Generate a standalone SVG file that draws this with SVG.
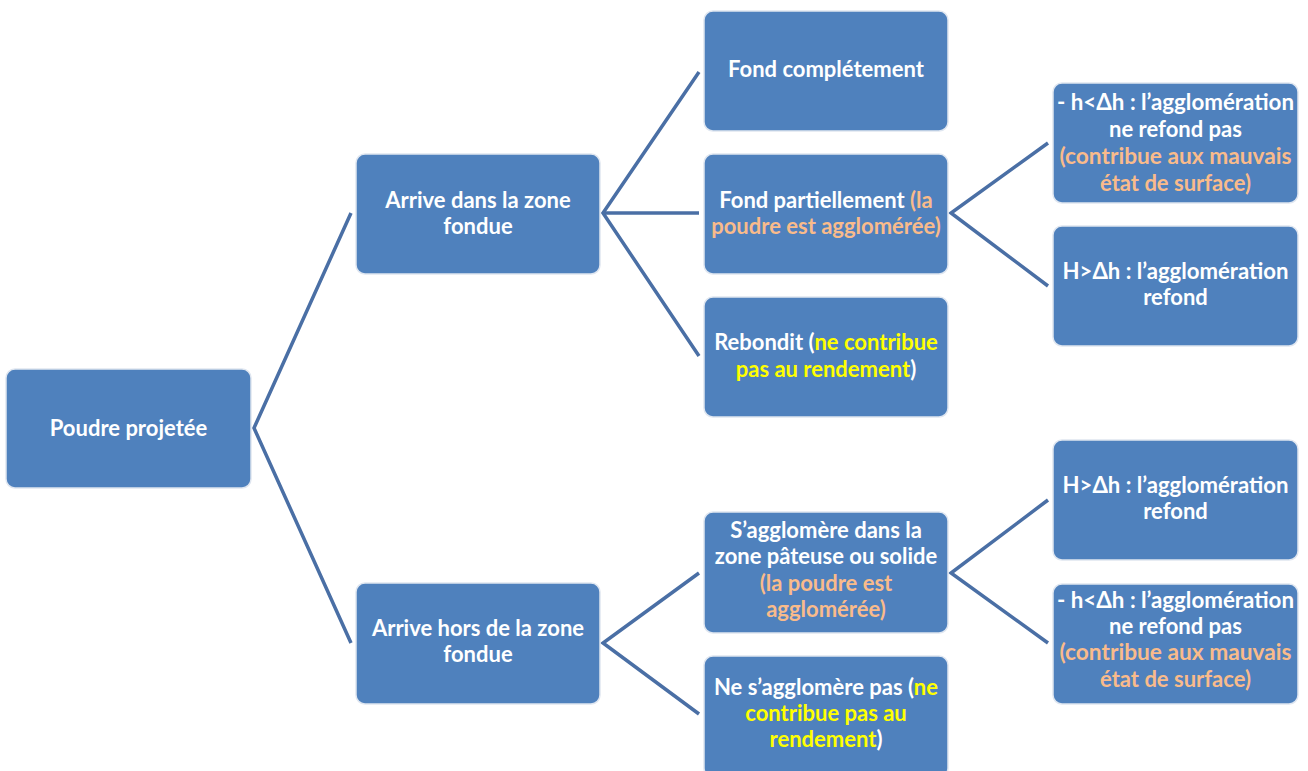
<svg xmlns="http://www.w3.org/2000/svg" width="1308" height="771" viewBox="0 0 1308 771">
<style>
.box{fill:#4f81bd;stroke:#dfe6f0;stroke-width:1.5}
.t{font-family:Lato,"Open Sans","Liberation Sans",sans-serif;font-weight:bold;font-size:22px;fill:#ffffff;text-anchor:middle}
.o{fill:#f9bb8b}
.y{fill:#ffff00}
.c{fill:none;stroke:#4a6fa5;stroke-width:3.5;stroke-linejoin:miter}
</style>
<rect width="1308" height="771" fill="#ffffff"/>
<g id="connectors">
<polyline class="c" points="351,213 254,428 351,643"/>
<polyline class="c" points="699,72 603,213 699,356"/>
<line class="c" x1="603" y1="213" x2="699" y2="213"/>
<polyline class="c" points="1048,143 951,213 1048,286"/>
<polyline class="c" points="699,573 603,643 699,714"/>
<polyline class="c" points="1048,500 951,573 1048,643"/>
</g>
<g id="n_poudre">
<rect class="box" x="6" y="369" width="245" height="119" rx="9"/>
<text class="t" x="128.5" y="436">Poudre projetée</text>
</g>
<g id="n_arrive_dans">
<rect class="box" x="356" y="154" width="244" height="120" rx="9"/>
<text class="t" x="478" y="208">Arrive dans  la zone</text>
<text class="t" x="478" y="234">fondue</text>
</g>
<g id="n_arrive_hors">
<rect class="box" x="356" y="583" width="244" height="121" rx="9"/>
<text class="t" x="478" y="636">Arrive hors de la zone</text>
<text class="t" x="478" y="662">fondue</text>
</g>
<g id="n_fond_complet">
<rect class="box" x="704" y="11" width="244" height="120" rx="9"/>
<text class="t" x="826" y="77">Fond complétement</text>
</g>
<g id="n_fond_partiel">
<rect class="box" x="704" y="154" width="244" height="120" rx="9"/>
<text class="t" x="826" y="208">Fond partiellement <tspan class="o">(la</tspan></text>
<text class="t o" x="826" y="234">poudre est agglomérée)</text>
</g>
<g id="n_rebondit">
<rect class="box" x="704" y="297" width="244" height="120" rx="9"/>
<text class="t" x="826" y="350">Rebondit (<tspan class="y">ne contribue</tspan></text>
<text class="t" x="826" y="377"><tspan class="y">pas au rendement</tspan>)</text>
</g>
<g id="n_sagglomere">
<rect class="box" x="704" y="512" width="244" height="121" rx="9"/>
<text class="t" x="826" y="538">S’agglomère dans la</text>
<text class="t" x="826" y="564">zone pâteuse ou solide</text>
<text class="t o" x="826" y="591">(la poudre est</text>
<text class="t o" x="826" y="617">agglomérée)</text>
</g>
<g id="n_ne_sagglomere">
<rect class="box" x="704" y="656" width="244" height="121" rx="9"/>
<text class="t" x="826" y="695">Ne s’agglomère pas (<tspan class="y">ne</tspan></text>
<text class="t y" x="826" y="721">contribue pas au</text>
<text class="t" x="826" y="747"><tspan class="y">rendement</tspan>)</text>
</g>
<g id="n_h_top">
<rect class="box" x="1053" y="83" width="245" height="120" rx="9"/>
<text class="t" x="1175.5" y="110" textLength="237" lengthAdjust="spacingAndGlyphs">- h&lt;Δh : l’agglomération</text>
<text class="t" x="1175.5" y="137">ne refond pas</text>
<text class="t o" x="1175.5" y="164" textLength="232" lengthAdjust="spacingAndGlyphs">(contribue aux mauvais</text>
<text class="t o" x="1175.5" y="191">état de surface)</text>
</g>
<g id="n_H_top">
<rect class="box" x="1053" y="226" width="245" height="120" rx="9"/>
<text class="t" x="1175.5" y="279" textLength="226" lengthAdjust="spacingAndGlyphs">H&gt;Δh : l’agglomération</text>
<text class="t" x="1175.5" y="305">refond</text>
</g>
<g id="n_H_bottom">
<rect class="box" x="1053" y="440" width="245" height="120" rx="9"/>
<text class="t" x="1175.5" y="493" textLength="226" lengthAdjust="spacingAndGlyphs">H&gt;Δh : l’agglomération</text>
<text class="t" x="1175.5" y="519">refond</text>
</g>
<g id="n_h_bottom">
<rect class="box" x="1053" y="584" width="245" height="120" rx="9"/>
<text class="t" x="1175.5" y="608" textLength="237" lengthAdjust="spacingAndGlyphs">- h&lt;Δh : l’agglomération</text>
<text class="t" x="1175.5" y="634">ne refond pas</text>
<text class="t o" x="1175.5" y="660" textLength="232" lengthAdjust="spacingAndGlyphs">(contribue aux mauvais</text>
<text class="t o" x="1175.5" y="687">état de surface)</text>
</g>
</svg>
